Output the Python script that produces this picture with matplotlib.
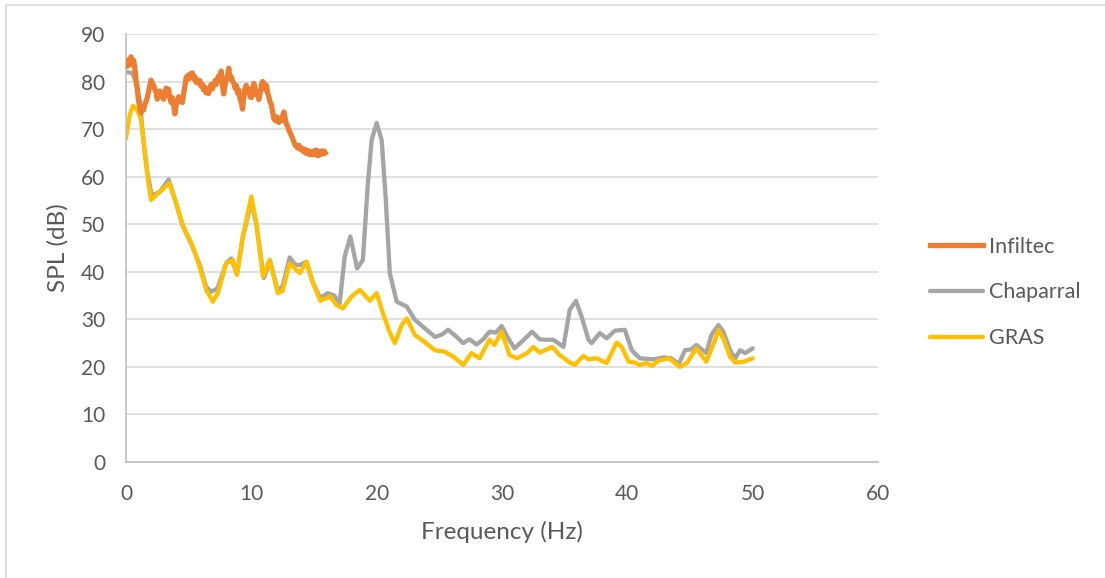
import numpy as np
import matplotlib.pyplot as plt
from matplotlib.patches import Rectangle

plt.rcParams['font.family'] = ['Lato', 'DejaVu Sans']

# Infiltec, sampled every 0.1 Hz from 0 to 15.9 Hz
infiltec_step = 0.1
infiltec_db = [
    84.0, 83.2, 84.6, 83.5, 85.2, 83.9, 84.5, 83.0, 80.3, 78.5,
    76.0, 74.8, 73.4, 74.5, 74.0, 75.2, 75.8, 76.6, 77.8, 79.0,
    80.3, 79.6, 79.2, 78.4, 77.8, 76.3, 77.2, 78.0, 77.6, 76.8,
    76.3, 77.5, 78.6, 77.2, 78.4, 76.5, 75.6, 76.6, 75.2, 73.2,
    75.0, 75.8, 76.8, 75.8, 76.2, 75.6, 77.5, 79.0, 80.8, 81.2,
    80.6, 81.6, 80.8, 81.8, 80.6, 81.0, 79.8, 80.4, 79.6, 80.2,
    79.0, 79.4, 78.2, 78.8, 77.6, 78.4, 77.5, 78.6, 79.4, 78.5,
    79.3, 80.2, 79.4, 80.6, 81.2, 80.2, 82.2, 79.0, 77.4, 79.2,
    80.4, 81.2, 82.8, 80.6, 81.0, 80.0, 79.6, 78.6, 79.2, 77.6,
    78.2, 76.4, 75.6, 74.2, 77.0, 78.6, 79.2, 77.8, 78.4, 76.8,
    76.6, 78.6, 79.6, 78.4, 77.2, 77.8, 76.2, 77.6, 79.2, 80.0,
    79.6, 78.4, 79.2, 77.6, 76.8, 75.6, 75.2, 73.6, 72.2, 71.8,
    72.6, 71.6, 71.4, 72.2, 71.8, 72.8, 73.6, 72.2, 71.0, 70.6,
    69.8, 69.2, 68.6, 68.0, 67.2, 66.6, 66.4, 66.0, 66.6, 65.8,
    66.0, 65.4, 65.8, 65.0, 65.6, 64.8, 65.4, 64.6, 65.2, 64.6,
    65.4, 64.8, 65.6, 64.4, 65.2, 64.6, 65.4, 64.8, 65.4, 65.0,
]
infiltec_hz = np.arange(len(infiltec_db)) * infiltec_step

chaparral_hz = [
    0.0, 0.5, 0.8, 1.1, 1.4, 1.7, 2.05, 2.7, 3.4, 4.0, 4.5, 5.3, 5.9, 6.4,
    6.8, 7.3, 8.0, 8.4, 8.85, 9.3, 10.0, 10.4, 11.0, 11.5, 12.1, 12.5, 13.06,
    13.5, 13.86, 14.4, 14.9, 15.5, 16.1, 16.6, 17.05, 17.45, 17.9, 18.44,
    18.9, 19.3, 19.6, 20.0, 20.4, 20.73, 21.05, 21.6, 22.4, 23.05, 23.8,
    24.65, 25.2, 25.7, 26.3, 26.9, 27.4, 27.97, 28.5, 29.0, 29.5, 29.97,
    30.5, 31.0, 31.7, 32.4, 33.0, 33.5, 34.1, 34.9, 35.4, 35.9, 36.36,
    36.9, 37.15, 37.8, 38.35, 39.0, 39.8, 40.35, 41.0, 42.1, 42.9, 43.5,
    44.1, 44.6, 45.1, 45.5, 46.3, 46.7, 47.27, 47.66, 48.2, 48.6, 49.0,
    49.4, 50.0,
]
chaparral_db = [
    82.0, 81.8, 80.0, 76.0, 67.5, 61.0, 56.0, 56.8, 59.4, 54.4, 49.8, 45.3,
    41.3, 36.8, 35.8, 36.5, 41.8, 42.8, 39.5, 47.0, 54.7, 50.0, 38.7, 42.3,
    36.0, 37.0, 43.0, 41.5, 41.4, 42.1, 37.8, 34.5, 35.5, 35.0, 33.4, 43.2,
    47.4, 40.7, 42.5, 58.6, 67.7, 71.3, 67.7, 55.1, 39.7, 33.7, 32.7, 29.9,
    28.2, 26.3, 26.8, 27.8, 26.5, 25.0, 25.8, 24.7, 25.8, 27.4, 27.2, 28.6,
    26.0, 23.9, 25.6, 27.4, 25.8, 25.7, 25.7, 24.2, 32.0, 33.9, 30.5,
    25.7, 25.0, 27.1, 26.0, 27.6, 27.8, 23.5, 21.8, 21.6, 22.0, 21.8,
    20.6, 23.5, 23.7, 24.6, 22.9, 26.7, 28.8, 27.4, 23.5, 21.8, 23.5,
    22.9, 23.9,
]

gras_hz = [
    0.0, 0.3, 0.55, 0.9, 1.2, 1.5, 1.8, 2.0, 2.68, 3.47, 4.0, 4.54, 5.34,
    5.87, 6.4, 6.93, 7.33, 8.0, 8.53, 8.85, 9.33, 10.0, 10.4, 10.93, 11.46,
    12.12, 12.5, 13.06, 13.86, 14.4, 14.92, 15.5, 16.3, 16.8, 17.3, 18.0,
    18.65, 19.45, 20.0, 20.5, 21.0, 21.45, 22.0, 22.4, 23.05, 23.8, 24.65,
    25.44, 26.2, 26.9, 27.57, 28.2, 29.0, 29.4, 29.97, 30.6, 31.2, 32.0,
    32.5, 33.0, 34.0, 34.6, 35.3, 35.8, 36.5, 36.9, 37.55, 38.35, 39.15,
    39.55, 40.1, 40.6, 41.0, 41.55, 41.95, 42.5, 43.3, 44.2, 44.75, 45.5,
    46.3, 46.9, 47.27, 47.7, 48.2, 48.6, 49.3, 50.0,
]
gras_db = [
    68.0, 73.0, 74.9, 74.0, 72.0, 65.0, 58.5, 55.1, 56.8, 58.6, 54.4, 49.8,
    45.3, 41.1, 36.2, 33.7, 35.5, 41.8, 42.5, 39.3, 47.4, 55.8, 50.2, 39.0,
    42.5, 35.5, 36.0, 41.8, 39.7, 42.1, 37.6, 33.9, 34.8, 33.0, 32.3, 34.8,
    36.2, 33.9, 35.5, 31.3, 27.5, 25.0, 28.8, 30.2, 26.7, 25.3, 23.5, 23.2,
    22.0, 20.4, 22.9, 21.8, 25.7, 24.6, 27.4, 22.5, 21.8, 22.9, 24.2,
    23.0, 24.2, 22.5, 21.1, 20.4, 22.3, 21.6, 21.8, 20.8, 25.1, 24.2,
    21.1, 20.9, 20.4, 20.8, 20.2, 21.3, 21.8, 20.0, 20.8, 23.9, 21.1,
    25.0, 27.8, 25.7, 22.1, 20.9, 21.1, 21.8,
]

x_ticks = [0, 10, 20, 30, 40, 50, 60]
y_ticks = [0, 10, 20, 30, 40, 50, 60, 70, 80, 90]

text_color = '#595959'
grid_color = '#D9D9D9'

fig = plt.figure(figsize=(11.05, 5.78), dpi=100)
ax = fig.add_axes([0.114, 0.2007, 0.6806, 0.7405])

ax.plot(infiltec_hz, infiltec_db, color='#ED7D31', lw=3.8, label='Infiltec',
        solid_joinstyle='round', zorder=3)
ax.plot(chaparral_hz, chaparral_db, color='#A5A5A5', lw=3.1, label='Chaparral',
        solid_joinstyle='round', solid_capstyle='round', zorder=2)
ax.plot(gras_hz, gras_db, color='#FFC000', lw=3.1, label='GRAS',
        solid_joinstyle='round', solid_capstyle='round', zorder=2.5)

ax.set_xlim(0, 60)
ax.set_ylim(0, 90)
ax.set_xticks(x_ticks)
ax.set_yticks(y_ticks)
ax.tick_params(length=0, labelsize=15, labelcolor=text_color)
ax.tick_params(axis='y', pad=15)
ax.tick_params(axis='x', pad=16)
ax.grid(axis='y', color=grid_color, lw=1.2)
ax.set_axisbelow(True)
for side in ['top', 'right']:
    ax.spines[side].set_visible(False)
ax.spines['left'].set_color('#BFBFBF')
ax.spines['bottom'].set_color('#BFBFBF')
ax.spines['left'].set_linewidth(1.2)
ax.spines['bottom'].set_linewidth(1.2)

ax.set_xlabel('Frequency (Hz)', fontsize=17.5, color=text_color, va='center')
ax.set_ylabel('SPL (dB)', fontsize=17.5, color=text_color, va='center')
ax.xaxis.set_label_coords(0.5, -0.1636)
ax.yaxis.set_label_coords(-0.0904, 0.5)

leg = fig.legend(loc='center left', bbox_to_anchor=(0.8416, 0.494), frameon=False,
                 fontsize=15.5, handlelength=2.45, handletextpad=0.28,
                 labelspacing=1.2, borderpad=0, borderaxespad=0)
for t in leg.get_texts():
    t.set_color(text_color)

# chart frame: only the top and left edges fall inside the image
fig.patches.append(Rectangle((0.0054, -0.1), 1.2, 1.0913, transform=fig.transFigure,
                             fill=False, edgecolor='#D9D9D9', lw=1.2))

fig.savefig('out.png', dpi=100)
